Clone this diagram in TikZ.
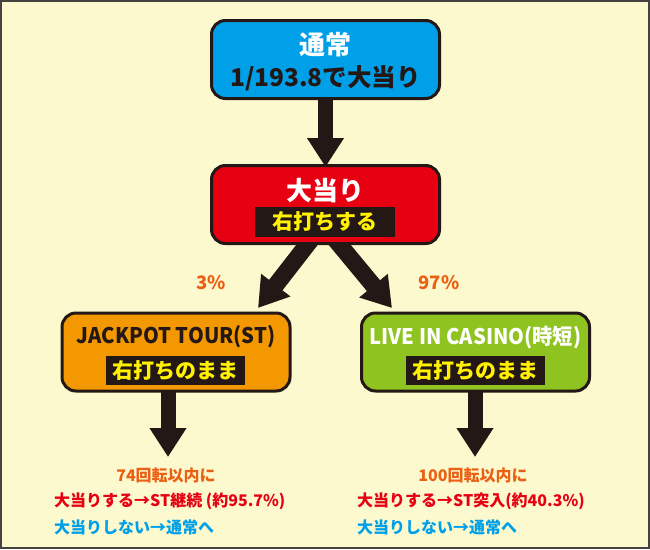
\documentclass[tikz,border=0pt]{standalone}
\usepackage{fontspec}
\setmainfont{Noto Sans CJK JP}
\newfontfamily\narrowjp{Noto Sans CJK JP}[FakeStretch=0.94]
\usetikzlibrary{arrows.meta,backgrounds}
\definecolor{ink}{RGB}{35,24,21}
\definecolor{frame}{RGB}{70,66,64}
\definecolor{cream}{RGB}{252,249,206}
\definecolor{skyblue}{RGB}{0,160,233}
\definecolor{hitred}{RGB}{230,0,18}
\definecolor{boxorange}{RGB}{243,152,0}
\definecolor{boxgreen}{RGB}{143,195,31}
\definecolor{tagyellow}{RGB}{255,241,0}
\definecolor{rateorange}{RGB}{235,97,20}

\begin{document}
\begin{tikzpicture}[x=1pt,y=-1pt,
	box/.style={draw=ink,line width=3pt,rounded corners=14pt,minimum width=228pt,minimum height=78pt,inner sep=0pt},
	tag/.style={fill=ink,text=tagyellow,inner sep=0pt,minimum width=140pt,minimum height=30pt,font=\bfseries\fontsize{21}{21}\selectfont},
	title/.style={inner sep=0pt,font=\bfseries\fontsize{26}{26}\selectfont},
	sub/.style={inner sep=0pt,font=\narrowjp\bfseries\fontsize{21.5}{21.5}\selectfont},
	note/.style={inner sep=0pt,anchor=west,font=\bfseries\fontsize{16}{16}\selectfont},
	rate/.style={inner sep=0pt,text=rateorange,font=\bfseries\fontsize{18.5}{18.5}\selectfont},
	fat/.style={draw=ink,line width=17pt,-{Triangle[width=35pt,length=29pt]}}]
	\useasboundingbox (0,0) rectangle (650,549);

	% boxes
	\node[box,fill=skyblue] (normal) at (325.5,59.5) {};
	\node[title,text=white] (normalT) at (325.5,45) {通常};
	\node[inner sep=0pt,text=ink,font=\bfseries\fontsize{24.5}{24.5}\selectfont] (normalS) at (325.5,78) {1/193.8で大当り};

	\node[box,fill=hitred] (hit) at (325.5,204.5) {};
	\node[title,text=white] (hitT) at (325.5,191) {大当り};
	\node[tag] (hitS) at (325,221.5) {右打ちする};

	\node[box,fill=boxorange] (st) at (176,352) {};
	\node[sub,text=ink] (stT) at (176,337) {JACKPOT TOUR(ST)};
	\node[tag,minimum width=139pt,minimum height=29pt] (stS) at (175.5,370.5) {右打ちのまま};

	\node[box,fill=boxgreen] (jt) at (475.5,352) {};
	\node[sub,text=white] (jtT) at (475.5,337) {LIVE IN CASINO(時短)};
	\node[tag,minimum width=139pt,minimum height=29pt] (jtS) at (475,370.5) {右打ちのまま};

	% rates
	\node[rate] (r3) at (211,283) {3\%};
	\node[rate] (r97) at (439,283) {97\%};

	% results
	\node[inner sep=0pt,text=rateorange,font=\bfseries\fontsize{16}{16}\selectfont] (stN) at (166,475) {74回転以内に};
	\node[note,text=hitred] (stA) at (54,501) {大当りする→ST継続 (約95.7\%)};
	\node[note,text=skyblue] (stB) at (54,527) {大当りしない→通常へ};

	\node[inner sep=0pt,text=rateorange,font=\bfseries\fontsize{16}{16}\selectfont] (jtN) at (473,475) {100回転以内に};
	\node[note,text=hitred] (jtA) at (357,501) {大当りする→ST突入(約40.3\%)};
	\node[note,text=skyblue] (jtB) at (357,527) {大当りしない→通常へ};

	% arrow ends
	\coordinate (ls) at (317,232);
	\coordinate (lt) at (258,308);
	\coordinate (rs) at (329,232);
	\coordinate (rt) at (392,308);
	\coordinate (sb) at (168,385);
	\coordinate (st2) at (168,457);
	\coordinate (jb) at (475,385);
	\coordinate (jt2) at (475,457);

	\begin{scope}[on background layer]
	\fill[cream,draw=frame,line width=2pt] (1,1) rectangle (649,548);
	\draw[fat,line width=15pt] (normal.south) -- ([yshift=-3pt]hit.north);
	\draw[fat] (ls) -- (lt);
	\draw[fat] (rs) -- (rt);
	\draw[fat,line width=15pt] (sb) -- (st2);
	\draw[fat,line width=15pt] (jb) -- (jt2);
	\end{scope}
\end{tikzpicture}
\end{document}
